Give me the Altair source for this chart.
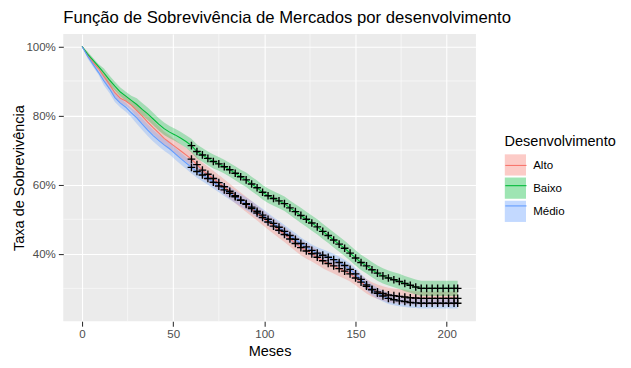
import altair as alt
import pandas as pd

# ---------------- data ----------------
times = list(range(0, 205, 3)) + [206]          # months
groups = ["Alto", "Baixo", "Médio"]
colors = ["#F8766D", "#00BA38", "#619CFF"]

surv_alto = [
    100.0, 97.6, 95.4, 93.6, 91.3, 89.0, 86.6, 85.0, 84.2, 83.0,
    81.4, 79.8, 78.1, 76.5, 75.0, 73.4, 72.2, 71.0, 69.8, 68.6,
    67.4, 65.8, 64.2, 63.0, 61.8, 60.6, 59.4, 58.1, 56.8, 55.5,
    54.3, 53.1, 51.8, 50.5, 49.2, 48.0, 46.8, 45.6, 44.3, 43.0,
    41.8, 40.8, 40.0, 39.0, 38.0, 37.2, 36.5, 35.7, 35.0, 34.2,
    33.0, 31.8, 30.6, 29.7, 29.0, 28.5, 28.1, 27.9, 27.7, 27.5,
    27.3, 27.2, 27.1, 27.1, 27.1, 27.1, 27.1, 27.1, 27.1,
    27.1,
]
surv_baixo = [
    100.0, 97.8, 96.0, 94.2, 92.3, 90.3, 88.5, 86.8, 85.6, 84.4,
    83.2, 81.8, 80.5, 79.0, 77.5, 76.2, 75.2, 74.4, 73.5, 72.5,
    71.3, 69.6, 68.6, 67.6, 66.7, 66.0, 65.2, 64.3, 63.3, 62.3,
    61.4, 60.2, 59.1, 57.8, 56.8, 56.0, 55.3, 54.5, 53.3, 52.2,
    51.1, 50.0, 48.9, 47.8, 46.5, 45.3, 44.0, 42.8, 41.6, 40.2,
    38.8, 37.5, 36.5, 35.4, 34.4, 33.6, 33.0, 32.5, 32.0, 31.4,
    30.9, 30.4, 30.0, 30.0, 30.0, 30.0, 30.0, 30.0, 30.0,
    30.0,
]
surv_medio = [
    100.0, 97.2, 94.8, 92.5, 90.0, 87.8, 85.2, 83.6, 82.4, 80.8,
    79.3, 77.5, 75.8, 74.2, 72.8, 71.5, 70.4, 69.0, 67.6, 66.3,
    65.0, 63.8, 62.8, 61.8, 60.7, 59.6, 58.5, 57.5, 56.5, 55.5,
    54.5, 53.5, 52.3, 51.2, 50.0, 48.8, 47.7, 46.5, 45.3, 44.2,
    43.0, 42.0, 41.0, 40.2, 39.6, 39.0, 38.3, 37.5, 36.6, 35.5,
    34.2, 32.6, 31.0, 29.6, 28.6, 27.8, 27.1, 26.7, 26.4, 26.2,
    25.9, 25.8, 25.7, 25.7, 25.7, 25.7, 25.7, 25.7, 25.7,
    25.7,
]

# confidence band half-width (percentage points) per period starting at ci_breaks
ci_breaks = [0, 3, 12, 30, 60, 90, 120, 150, 180]
hw_alto = [0.0, 0.7, 1.4, 2.0, 2.2, 2.2, 2.2, 2.1, 2.0]
hw_baixo = [0.0, 0.7, 1.3, 1.8, 2.0, 2.1, 2.2, 2.2, 2.2]
hw_medio = [0.0, 0.7, 1.3, 1.7, 1.8, 1.8, 1.7, 1.6, 1.5]

censor_from = 60  # censoring marks appear from this month on

x_ticks = [0, 50, 100, 150, 200]
y_ticks = [0.4, 0.6, 0.8, 1.0]
x_minor = [25, 75, 125, 175]
y_minor = [0.3, 0.5, 0.7, 0.9]

# ---------------- build table ----------------
rows = []
for g, surv, hw in zip(groups, [surv_alto, surv_baixo, surv_medio],
                       [hw_alto, hw_baixo, hw_medio]):
    assert len(surv) == len(times)
    for t, s in zip(times, surv):
        k = max(i for i, b in enumerate(ci_breaks) if t >= b)
        w = hw[k]
        rows.append({"t": t, "s": s / 100, "lo": (s - w) / 100,
                     "hi": min(100.0, s + w) / 100, "g": g, "g2": g})
df = pd.DataFrame(rows)

FONT = "Liberation Sans"
xscale = alt.Scale(domain=[-10.3, 216.0], nice=False, zero=False)
yscale = alt.Scale(domain=[0.205, 1.036], nice=False, zero=False)

xax = alt.Axis(values=x_ticks, title="Meses", domain=False, grid=True,
               gridColor="white", gridWidth=1.1, tickColor="#333333",
               tickSize=5, tickWidth=1.1, labelFont=FONT, labelFontSize=11.7,
               labelColor="#4D4D4D", labelPadding=2, titleFont=FONT,
               titleFontSize=14.7, titleFontWeight="normal", titleColor="black",
               titleX=209, titleY=35, titleBaseline="alphabetic")
yax = alt.Axis(values=y_ticks, format=".0%", title="Taxa de Sobrevivência",
               domain=False, grid=True, gridColor="white", gridWidth=1.1,
               tickColor="#333333", tickSize=5, tickWidth=1.1, labelFont=FONT,
               labelFontSize=11.7, labelColor="#4D4D4D", labelPadding=3,
               titleFont=FONT, titleFontSize=14.7, titleFontWeight="normal",
               titleColor="black", titleX=-44, titleY=145.5,
               titleBaseline="middle", titleAlign="center", titleAngle=270)

base = alt.Chart(df)

minor_x = alt.Chart(pd.DataFrame({"v": x_minor})).mark_rule(
    color="white", strokeWidth=0.55).encode(
    x=alt.X("v:Q", scale=xscale, axis=xax))
minor_y = alt.Chart(pd.DataFrame({"v": y_minor})).mark_rule(
    color="white", strokeWidth=0.55).encode(
    y=alt.Y("v:Q", scale=yscale, axis=yax))

legend_common = dict(orient="none", legendX=447, legendY=101,
                     direction="vertical", padding=0, offset=0,
                     titleFont=FONT, titleFontSize=14.7,
                     titleFontWeight="normal", titleColor="black",
                     titlePadding=6, labelFont=FONT, labelFontSize=11.7,
                     labelColor="black", labelOffset=7, rowPadding=1.5,
                     symbolSize=462)

# fill scale: data-driven domain (alphabetical = groups order) so that its
# legend is kept apart from the stroke legend
band = base.mark_area(opacity=0.3, interpolate="linear").encode(
    x=alt.X("t:Q", scale=xscale, axis=xax),
    y=alt.Y("lo:Q", scale=yscale, axis=yax),
    y2="hi:Q",
    fill=alt.Fill("g2:N", scale=alt.Scale(range=colors),
                  legend=alt.Legend(title="Desenvolvimento",
                                    symbolType="square", symbolOpacity=0.38,
                                    symbolStrokeWidth=0, **legend_common)),
)

line = base.mark_line(strokeWidth=1.1, interpolate="linear").encode(
    x=alt.X("t:Q", scale=xscale, axis=xax),
    y=alt.Y("s:Q", scale=yscale, axis=yax),
    stroke=alt.Stroke("g:N", scale=alt.Scale(domain=groups, range=colors),
                      legend=alt.Legend(title="Desenvolvimento",
                                        symbolType="stroke",
                                        symbolStrokeWidth=1.1,
                                        titleOpacity=0, labelExpr="''",
                                        zindex=1, **legend_common)),
    detail="g:N",
)

marks = base.transform_filter(alt.datum.t >= censor_from).mark_point(
    shape="M-1,0L1,0M0,-1L0,1", filled=False, color="black",
    strokeWidth=1.4, size=60, opacity=1).encode(
    x=alt.X("t:Q", scale=xscale, axis=xax),
    y=alt.Y("s:Q", scale=yscale, axis=yax),
)

chart = alt.layer(minor_x, minor_y, band, line, marks).properties(
    width=418, height=291,
    autosize=alt.AutoSizeParams(type="none"),
    padding={"left": 56, "top": 24, "right": 149, "bottom": 37},
    title=alt.TitleParams(
        "Função de Sobrevivência de Mercados por desenvolvimento",
        anchor="start", frame="group", font=FONT, fontSize=16.9,
        fontWeight="normal", color="black", offset=7),
).configure(
    background="white",
    view=alt.ViewConfig(fill="#EBEBEB", strokeWidth=0),
)

chart.save("out.html", embed_options={"renderer": "svg", "actions": False})
